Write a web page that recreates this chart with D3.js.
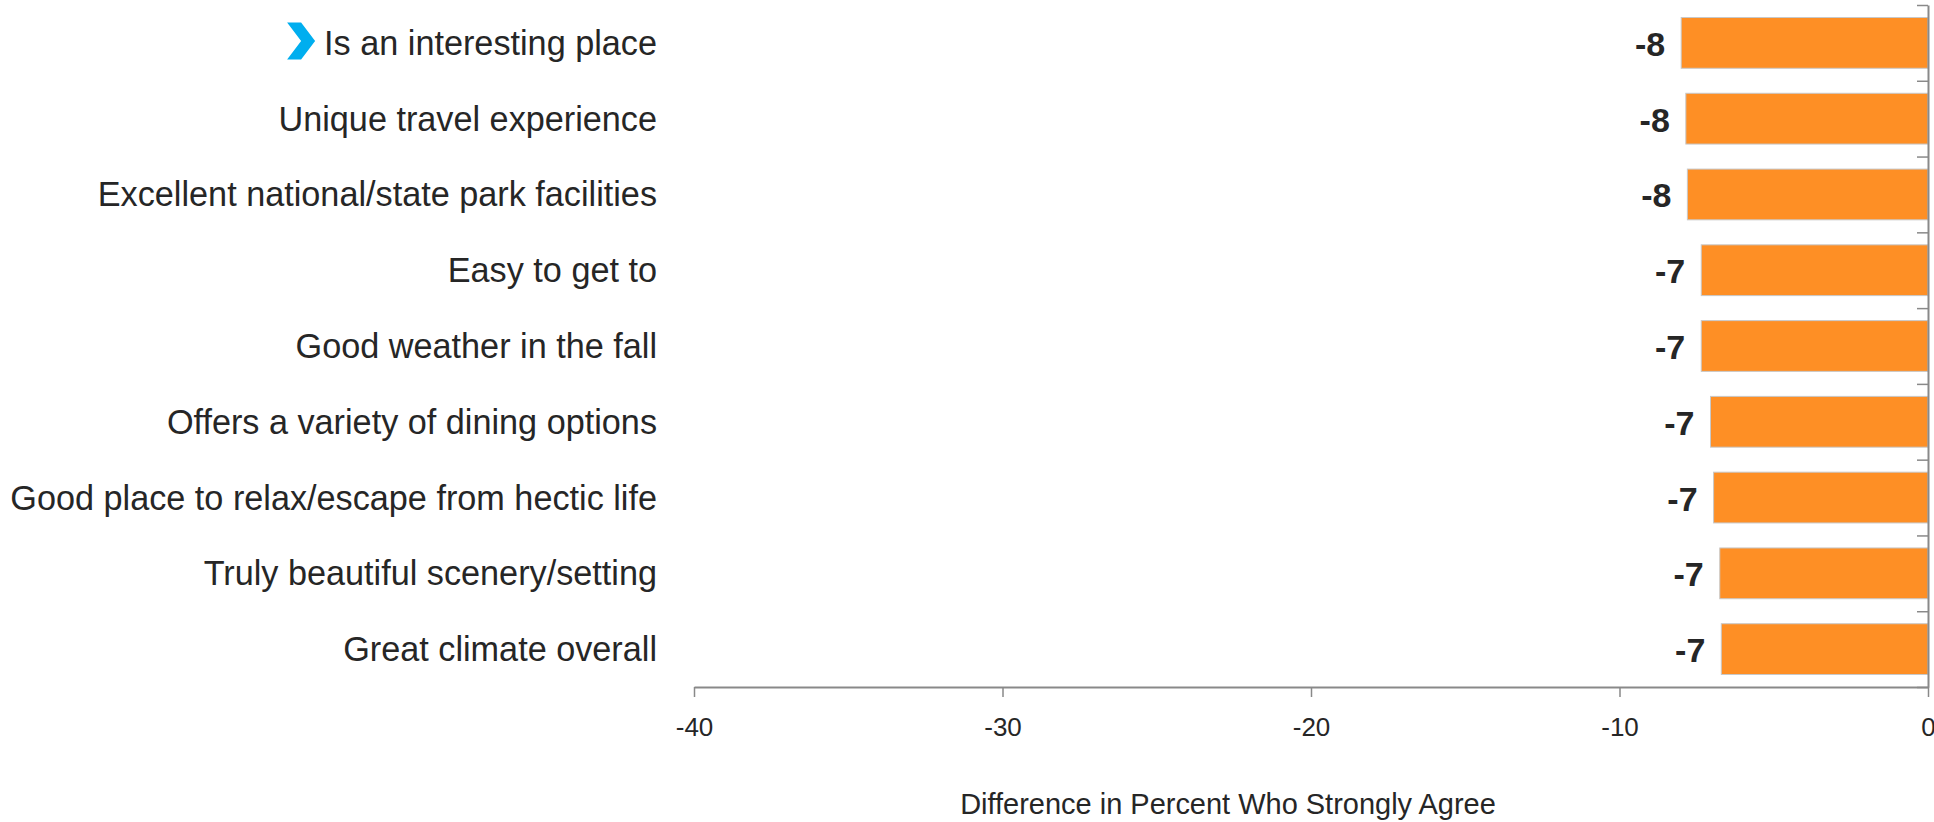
<!DOCTYPE html>
<html>
<head>
<meta charset="utf-8">
<script src="https://cdn.jsdelivr.net/npm/d3@7"></script>
<style>
  html, body { margin: 0; padding: 0; background: #ffffff; }
  svg { display: block; }
  text { font-family: "Liberation Sans", Arial, sans-serif; }
</style>
</head>
<body>
<svg id="chart" width="1934" height="822"></svg>
<script>
// ---- data ----
const categories = [
  "Is an interesting place",
  "Unique travel experience",
  "Excellent national/state park facilities",
  "Easy to get to",
  "Good weather in the fall",
  "Offers a variety of dining options",
  "Good place to relax/escape from hectic life",
  "Truly beautiful scenery/setting",
  "Great climate overall"
];
const values = [-8.0, -7.85, -7.8, -7.35, -7.35, -7.05, -6.95, -6.75, -6.7];
const dataLabels = ["-8", "-8", "-8", "-7", "-7", "-7", "-7", "-7", "-7"];
const xTicks = [-40, -30, -20, -10, 0];
const xTickLabels = ["-40", "-30", "-20", "-10", "0"];
const axisTitle = "Difference in Percent Who Strongly Agree";

// ---- layout ----
const plotLeft = 694, plotRight = 1928, plotTop = 5, plotBottom = 687;
const svg = d3.select("#chart");

const x = d3.scaleLinear().domain([-40, 0]).range([plotLeft, plotRight]);
const y = d3.scaleBand().domain(categories).range([plotTop, plotBottom])
  .paddingInner(0.33).paddingOuter(0.165);
const yIdx = d3.scaleLinear().domain([0, categories.length]).range([plotTop, plotBottom]);

// bars
svg.append("g").selectAll("rect").data(values).join("rect")
  .attr("x", d => x(d))
  .attr("y", (d, i) => y(categories[i]))
  .attr("width", d => x(0) - x(d))
  .attr("height", y.bandwidth())
  .attr("fill", "#FE8F25")
  .attr("stroke", "#c8c8c8")
  .attr("stroke-width", 1);

// x axis
const xAxis = d3.axisBottom(x).tickValues(xTicks)
  .tickFormat((d, i) => xTickLabels[i])
  .tickSizeInner(10).tickSizeOuter(0).tickPadding(21);
const gx = svg.append("g").attr("transform", `translate(0,${plotBottom})`).call(xAxis);
gx.select(".domain").attr("stroke", "#898989").attr("stroke-width", 2);
gx.selectAll(".tick line").attr("stroke", "#898989").attr("stroke-width", 1.5);
gx.selectAll(".tick text")
  .attr("fill", "#262626")
  .style("font-family", '"Liberation Sans", Arial, sans-serif')
  .style("font-size", "26px");

// y axis (category axis at x = 0) with ticks at band boundaries
const yAxis = d3.axisLeft(yIdx).tickValues(d3.range(categories.length + 1))
  .tickFormat("").tickSizeInner(11).tickSizeOuter(0);
const gy = svg.append("g").attr("transform", `translate(${x(0)},0)`).call(yAxis);
gy.select(".domain").attr("stroke", "#898989").attr("stroke-width", 2);
gy.selectAll(".tick line").attr("stroke", "#898989").attr("stroke-width", 1.5);

// data labels
svg.append("g").selectAll("text").data(values).join("text")
  .attr("x", d => x(d) - 16)
  .attr("y", (d, i) => y(categories[i]) + y.bandwidth() / 2 + 1)
  .attr("text-anchor", "end")
  .attr("dominant-baseline", "central")
  .attr("font-weight", "bold")
  .attr("font-size", "34px")
  .attr("fill", "#262626")
  .text((d, i) => dataLabels[i]);

// category labels
const labelRight = 657;
const catLabels = svg.append("g").selectAll("text").data(categories).join("text")
  .attr("x", labelRight)
  .attr("y", d => y(d) + y.bandwidth() / 2)
  .attr("text-anchor", "end")
  .attr("dominant-baseline", "central")
  .attr("font-size", "28px")
  .attr("fill", "#262626")
  .text(d => d);

// fit label font to the reference width of the longest label
const longest = catLabels.filter(d => d === categories[6]).node();
const measured = longest.getComputedTextLength();
const fs = 28 * 647 / measured;
catLabels.attr("font-size", fs + "px");

// chevron marker before first label
const firstBox = catLabels.filter((d, i) => i === 0).node().getBBox();
const cy = y(categories[0]) + y.bandwidth() / 2 - 2;
const tipX = firstBox.x - 9, ch = 37, cw = 28, th = 14;
svg.append("path")
  .attr("d", d3.line()([
    [tipX - cw, cy - ch / 2], [tipX - cw + th, cy - ch / 2], [tipX, cy],
    [tipX - cw + th, cy + ch / 2], [tipX - cw, cy + ch / 2], [tipX - th, cy]
  ]) + "Z")
  .attr("fill", "#00AEEF");

// axis title
const title = svg.append("text")
  .attr("x", 1228)
  .attr("y", 804)
  .attr("text-anchor", "middle")
  .attr("dominant-baseline", "central")
  .attr("font-size", "24px")
  .attr("fill", "#262626")
  .text(axisTitle);
const tl = title.node().getComputedTextLength();
title.attr("font-size", (24 * 536 / tl) + "px");
</script>
</body>
</html>
